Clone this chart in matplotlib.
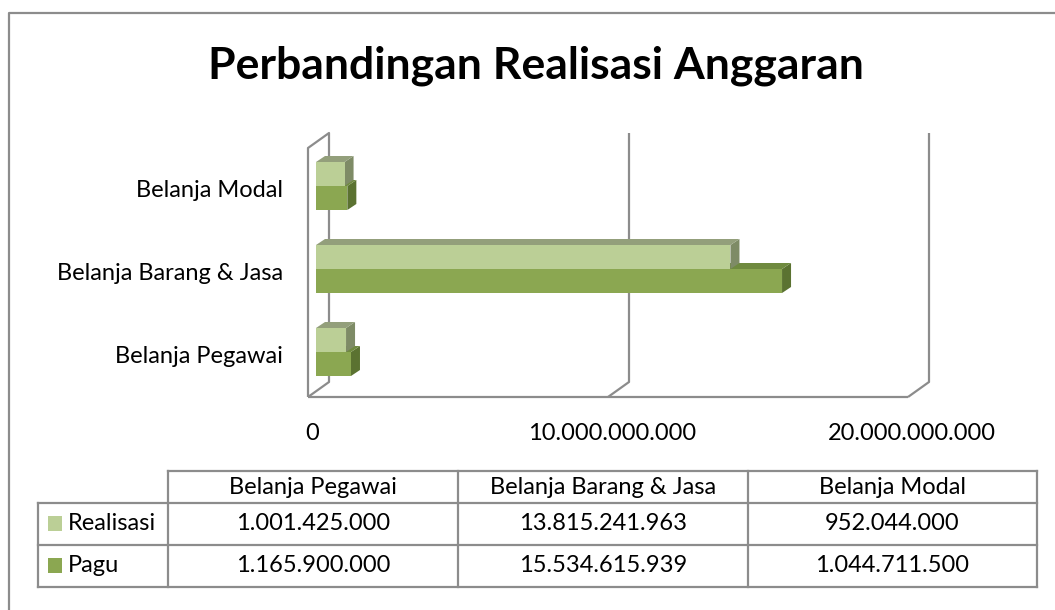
import matplotlib
matplotlib.use("Agg")

import matplotlib.pyplot as plt
from matplotlib.patches import Polygon, Rectangle
from matplotlib.lines import Line2D
from matplotlib.transforms import Affine2D, offset_copy

# ── Data ──────────────────────────────────────────────────────────────────────
categories = ["Belanja Pegawai", "Belanja Barang & Jasa", "Belanja Modal"]
realisasi  = [1001425000, 13815241963, 952044000]
pagu       = [1165900000, 15534615939, 1044711500]
series     = ["Realisasi", "Pagu"]
x_ticks    = [0, 10_000_000_000, 20_000_000_000]

# ── Style ─────────────────────────────────────────────────────────────────────
FONT      = "Lato"
FS        = 17
GRAY      = "#8c8c8c"
LIGHT     = ("#bbcf96", "#939f7b", "#7e8b66")   # front, top, side
DARK      = ("#8ba751", "#6f8a3f", "#5b7231")
TEXT      = "#000000"

W, H = 1055, 610
fig = plt.figure(figsize=(W / 100, H / 100), dpi=100, facecolor="white")
plt.rcParams["font.family"] = [FONT, "DejaVu Sans"]

# pixel transform for layout (origin top-left, y down)
pix = Affine2D().scale(1 / W, -1 / H).translate(0, 1) + fig.transFigure

# plot front plane in pixels
L, R, T, B = 308, 908, 148, 397
ax = fig.add_axes([L / W, 1 - B / H, (R - L) / W, (B - T) / H])
ax.set_xlim(x_ticks[0], x_ticks[-1])
ax.set_ylim(-0.5, len(categories) - 0.5)
ax.axis("off")

DX = (x_ticks[-1] - x_ticks[0]) / (R - L)   # data per pixel
DY = len(categories) / (B - T)

# depth offsets (pixels)
WALL = (21, 15)
BAR_OFF = (8, 3.5)
BAR_DEPTH = (9, 6)
BAR_H = 24

y0, y1 = -0.5, len(categories) - 0.5
wx, wy = WALL[0] * DX, WALL[1] * DY


def gline(xs, ys):
    ax.add_line(Line2D(xs, ys, color=GRAY, lw=1.6, clip_on=False, zorder=1,
                       solid_capstyle="butt"))


# left wall
gline([0, 0, wx, wx, 0], [y0, y1, y1 + wy, y0 + wy, y0])
# floor front edge
gline([x_ticks[0], x_ticks[-1]], [y0, y0])
# gridlines on back wall
for xt in x_ticks[1:]:
    gline([xt, xt + wx, xt + wx], [y0, y0 + wy, y1 + wy])

# ── 3D bars ───────────────────────────────────────────────────────────────────
bx, by = BAR_OFF[0] * DX, BAR_OFF[1] * DY
ddx, ddy = BAR_DEPTH[0] * DX, BAR_DEPTH[1] * DY
bh = BAR_H * DY


def bar3d(val, ybot, cols):
    x0, x1 = bx, bx + val
    yb, yt = ybot, ybot + bh
    side = [(x1, yb), (x1 + ddx, yb + ddy), (x1 + ddx, yt + ddy), (x1, yt)]
    top = [(x0, yt), (x1, yt), (x1 + ddx, yt + ddy), (x0 + ddx, yt + ddy)]
    ax.add_patch(Polygon(side, closed=True, fc=cols[2], ec="none", zorder=3))
    ax.add_patch(Polygon(top, closed=True, fc=cols[1], ec="none", zorder=3))
    ax.add_patch(Rectangle((x0, yb), val, bh, fc=cols[0], ec="none", zorder=3))


for i in range(len(categories)):
    mid = i + by
    bar3d(pagu[i], mid - bh, DARK)
    bar3d(realisasi[i], mid, LIGHT)

# category labels
for i, cat in enumerate(categories):
    ax.text(0, i, cat, transform=offset_copy(ax.transData, fig, x=-25, y=-1, units="dots"),
            ha="right", va="center", fontsize=FS, color=TEXT)


def fmt(v):
    return f"{v:,}".replace(",", ".")


# x tick labels
for xt in x_ticks:
    ax.text(xt, y0, fmt(xt), transform=offset_copy(ax.transData, fig, x=4, y=-36, units="dots"),
            ha="center", va="center", fontsize=FS, color=TEXT)

# ── Title ─────────────────────────────────────────────────────────────────────
fig.text(536, 66, "Perbandingan Realisasi Anggaran", transform=pix,
         ha="center", va="center", fontsize=32, fontweight="bold", color=TEXT)

# ── Outer border ──────────────────────────────────────────────────────────────
fig.add_artist(Line2D([9, 9, W], [H, 13, 13], transform=pix, color=GRAY, lw=1.6))

# ── Data table ────────────────────────────────────────────────────────────────
col_x = [168, 458, 748, 1037]
row_y = [471, 503, 545, 587]
key_l = 38


def tline(xs, ys):
    fig.add_artist(Line2D(xs, ys, transform=pix, color=GRAY, lw=1.6))


tline([col_x[0], col_x[-1]], [row_y[0], row_y[0]])
for yy in row_y[1:]:
    tline([key_l, col_x[-1]], [yy, yy])
tline([key_l, key_l], [row_y[1], row_y[-1]])
for xx in col_x:
    tline([xx, xx], [row_y[0], row_y[-1]])

for j, cat in enumerate(categories):
    cx = (col_x[j] + col_x[j + 1]) / 2
    fig.text(cx, (row_y[0] + row_y[1]) / 2, cat, transform=pix,
             ha="center", va="center", fontsize=FS, color=TEXT)

for r, (name, vals, cols) in enumerate(zip(series, [realisasi, pagu], [LIGHT, DARK])):
    cy = (row_y[r + 1] + row_y[r + 2]) / 2
    fig.add_artist(Rectangle((48, cy - 8), 14, 15, transform=pix, fc=cols[0], ec="none"))
    fig.text(68, cy, name, transform=pix, ha="left", va="center", fontsize=FS, color=TEXT)
    for j, v in enumerate(vals):
        cx = (col_x[j] + col_x[j + 1]) / 2
        fig.text(cx, cy, fmt(v), transform=pix, ha="center", va="center",
                 fontsize=FS, color=TEXT)

fig.savefig("out.png", dpi=100, facecolor="white")
